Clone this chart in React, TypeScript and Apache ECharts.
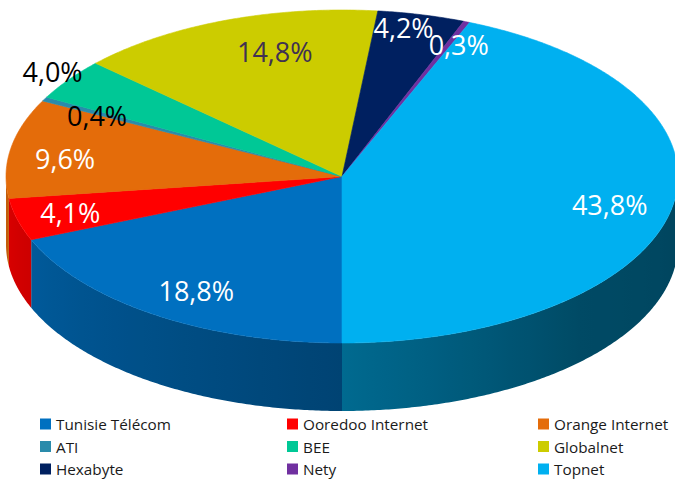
import React, { useEffect, useRef } from 'react';
import * as echarts from 'echarts';

const categories = [
  'Tunisie Télécom',
  'Ooredoo Internet',
  'Orange Internet',
  'ATI',
  'BEE',
  'Globalnet',
  'Hexabyte',
  'Nety',
  'Topnet',
];
const shares = [18.8, 4.1, 9.6, 0.4, 4.0, 14.8, 4.2, 0.3, 43.8];
const sliceColors = ['#0070C0', '#FF0000', '#E46C0A', '#2A8BAB', '#00C896', '#CCCC00', '#002060', '#7030A0', '#00B0F0'];
const labelColors = ['#FFFFFF', '#FFFFFF', '#FFFFFF', '#000000', '#000000', '#403152', '#FFFFFF', '#FFFFFF', '#FFFFFF'];
// legend columns (indices into categories)
const legendColumns = [
  [0, 3, 6],
  [1, 4, 7],
  [2, 5, 8],
];
// layout tweaks for labels (pixel nudges from the default position)
const labelNudges = [
  [4, 3], [-12, 2], [-12, 4], [-7, 1], [-71, -27], [27, 0], [-2, -20], [17, -8], [4, 2],
];

const CX = 342;
const CY = 176.5;
const RX = 336;
const RY = 166.5;
const DEPTH = 68;
const START = 180; // degrees clockwise from 12 o'clock
const LABEL_R = 0.8;

function pt(theta: number, dy = 0): number[] {
  const r = (theta * Math.PI) / 180;
  return [CX + RX * Math.sin(r), CY - RY * Math.cos(r) + dy];
}

function shadeFactor(t: number): number {
  // t in [90, 270]
  if (t >= 180) return 0.6 + 0.27 * ((t - 180) / 90);
  if (t >= 135) return 0.6 - 0.18 * ((180 - t) / 45);
  return 0.42 - 0.03 * ((135 - t) / 45);
}

function shade(hex: string, f: number): string {
  const n = parseInt(hex.slice(1), 16);
  const r = Math.round(((n >> 16) & 255) * f);
  const g = Math.round(((n >> 8) & 255) * f);
  const b = Math.round((n & 255) * f);
  return `rgb(${r},${g},${b})`;
}

function arc(a: number, b: number, dy = 0): number[][] {
  const pts: number[][] = [];
  const steps = Math.max(2, Math.ceil(Math.abs(b - a) / 0.5));
  for (let i = 0; i <= steps; i++) pts.push(pt(a + ((b - a) * i) / steps, dy));
  return pts;
}

export default function App() {
  const ref = useRef<HTMLDivElement>(null);
  useEffect(() => {
    document.body.style.margin = '0';
    if (!ref.current) return;
    const chart = echarts.init(ref.current, undefined, { renderer: 'svg' });

    const cum: number[] = [];
    let acc = 0;
    shares.forEach((v) => {
      cum.push(acc);
      acc += v;
    });
    const total = acc;
    const data = shares.map((v, i) => [cum[i], v, i]);

    const renderItem = (params: any, api: any) => {
      const startPct = api.value(0);
      const v = api.value(1);
      const i = api.value(2);
      const color = sliceColors[i];
      const a = START + (startPct / total) * 360;
      const b = a + (v / total) * 360;
      const children: any[] = [];

      // side walls (front half only)
      const visible = [
        [90, 270],
        [450, 630],
      ];
      visible.forEach(([lo, hi]) => {
        const p = Math.max(a, lo);
        const q = Math.min(b, hi);
        if (q <= p) return;
        const top = arc(p, q);
        const bottom = arc(p, q, DEPTH).reverse();
        const xmax = pt(p)[0];
        const xmin = pt(q)[0];
        let fill: any;
        if (xmax - xmin < 1) {
          const t = (((p + q) / 2) % 360 + 360) % 360;
          fill = shade(color, shadeFactor(t));
        } else {
          const stops: any[] = [];
          const n = 24;
          for (let k = 0; k <= n; k++) {
            const th = p + ((q - p) * k) / n;
            const x = pt(th)[0];
            const t = ((th % 360) + 360) % 360;
            stops.push({ offset: Math.min(1, Math.max(0, (x - xmin) / (xmax - xmin))), color: shade(color, shadeFactor(t)) });
          }
          stops.sort((s1, s2) => s1.offset - s2.offset);
          fill = new echarts.graphic.LinearGradient(xmin, 0, xmax, 0, stops, true);
        }
        children.push({
          type: 'polygon',
          z2: 1,
          shape: { points: top.concat(bottom) },
          style: { fill, stroke: null },
        });
      });

      // top face
      const topPts = [[CX, CY]].concat(arc(a, b));
      children.push({
        type: 'polygon',
        z2: 2,
        shape: { points: topPts },
        style: { fill: color, stroke: color, lineWidth: 0.6, lineJoin: 'round' },
      });

      // label
      const mid = (a + b) / 2;
      const r = (mid * Math.PI) / 180;
      const lx = CX + RX * LABEL_R * Math.sin(r) + labelNudges[i][0];
      const ly = CY - RY * LABEL_R * Math.cos(r) + labelNudges[i][1];
      children.push({
        type: 'text',
        z2: 3,
        style: {
          text: v.toFixed(1).replace('.', ',') + '%',
          x: lx,
          y: ly,
          align: 'center',
          verticalAlign: 'middle',
          fill: labelColors[i],
          fontSize: 27,
          fontFamily: 'Open Sans',
        },
      });
      return { type: 'group', children };
    };

    const legendLefts = [40, 287, 538];

    chart.setOption({
      animation: false,
      backgroundColor: '#FFFFFF',
      legend: legendColumns.map((col, k) => ({
        orient: 'vertical',
        left: legendLefts[k],
        top: 416,
        padding: 0,
        icon: 'rect',
        itemWidth: 11,
        itemHeight: 11,
        itemGap: 6.5,
        selectedMode: false,
        data: col.map((idx) => categories[idx]),
        textStyle: { fontFamily: 'Open Sans', fontSize: 15.3, color: '#1a1a1a', lineHeight: 16 },
      })),
      series: [
        {
          type: 'custom',
          coordinateSystem: 'none',
          renderItem,
          data,
          silent: true,
        },
        {
          type: 'pie',
          radius: [0, 1],
          center: [-40, -40],
          silent: true,
          label: { show: false },
          labelLine: { show: false },
          data: categories.map((name, i) => ({ name, value: shares[i], itemStyle: { color: sliceColors[i] } })),
        },
      ],
    });
    return () => chart.dispose();
  }, []);
  return <div ref={ref} style={{ width: 675, height: 480 }} />;
}
